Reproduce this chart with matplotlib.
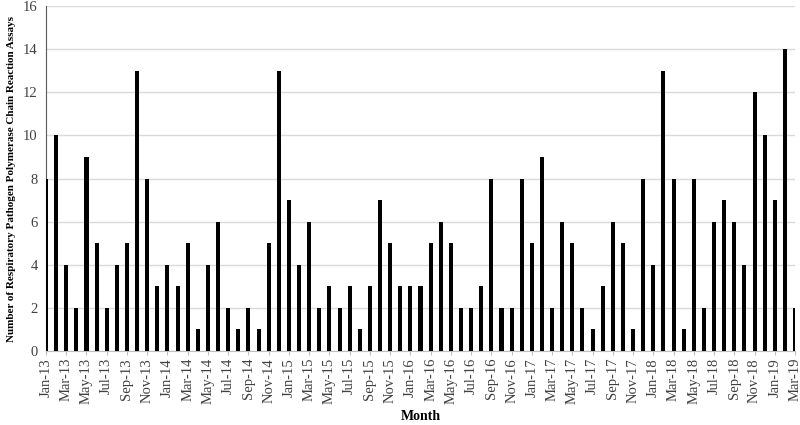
import numpy as np
import pandas as pd
import matplotlib
matplotlib.use("Agg")
import matplotlib.pyplot as plt

# dados
meses = pd.date_range("2013-01-01", "2019-03-01", freq="MS")
rotulos = [m.strftime("%b-%y") for m in meses]

valores = [
    8, 10, 4, 2, 9, 5, 2, 4, 5, 13, 8, 3,      # 2013
    4, 3, 5, 1, 4, 6, 2, 1, 2, 1, 5, 13,       # 2014
    7, 4, 6, 2, 3, 2, 3, 1, 3, 7, 5, 3,        # 2015
    3, 3, 5, 6, 5, 2, 2, 3, 8, 2, 2, 8,        # 2016
    5, 9, 2, 6, 5, 2, 1, 3, 6, 5, 1, 8,        # 2017
    4, 13, 8, 1, 8, 2, 6, 7, 6, 4, 12, 10,     # 2018
    7, 14, 2,                                  # 2019
]

yticks = np.arange(0, 17, 2)

plt.rcParams['font.family'] = ['Liberation Serif', 'DejaVu Serif']

fig = plt.figure(figsize=(8, 4.25), dpi=100)
ax = fig.add_axes([0.0575, 0.174, 0.9363, 0.812])

x = np.arange(len(valores))
ax.bar(x, valores, width=0.4, color='black', zorder=3)

ax.set_xlim(0, len(valores) - 1)
ax.set_ylim(0, 16)

ax.set_yticks(yticks)
ax.yaxis.grid(True, color='#d9d9d9', linewidth=1.0, zorder=0)
ax.tick_params(axis='y', length=0, labelsize=10.5, colors='#404040', pad=6)

ax.set_xticks(x[::2])
ax.set_xticklabels(rotulos[::2], rotation=90, fontsize=10.5, color='#404040')
ax.tick_params(axis='x', length=3, color='#bfbfbf', pad=2)

for lado in ['top', 'right']:
    ax.spines[lado].set_visible(False)
ax.spines['bottom'].set_color('#bfbfbf')
ax.spines['left'].set_color('#595959')
ax.spines['left'].set_linewidth(0.8)

ax.set_ylabel("Number of Respiratory Pathogen Polymerase Chain Reaction Assays",
              fontsize=8, fontweight='bold', labelpad=5)
ax.set_xlabel("Month", fontsize=10, fontweight='bold', labelpad=4)

plt.savefig("out.png", dpi=100)
plt.close(fig)
